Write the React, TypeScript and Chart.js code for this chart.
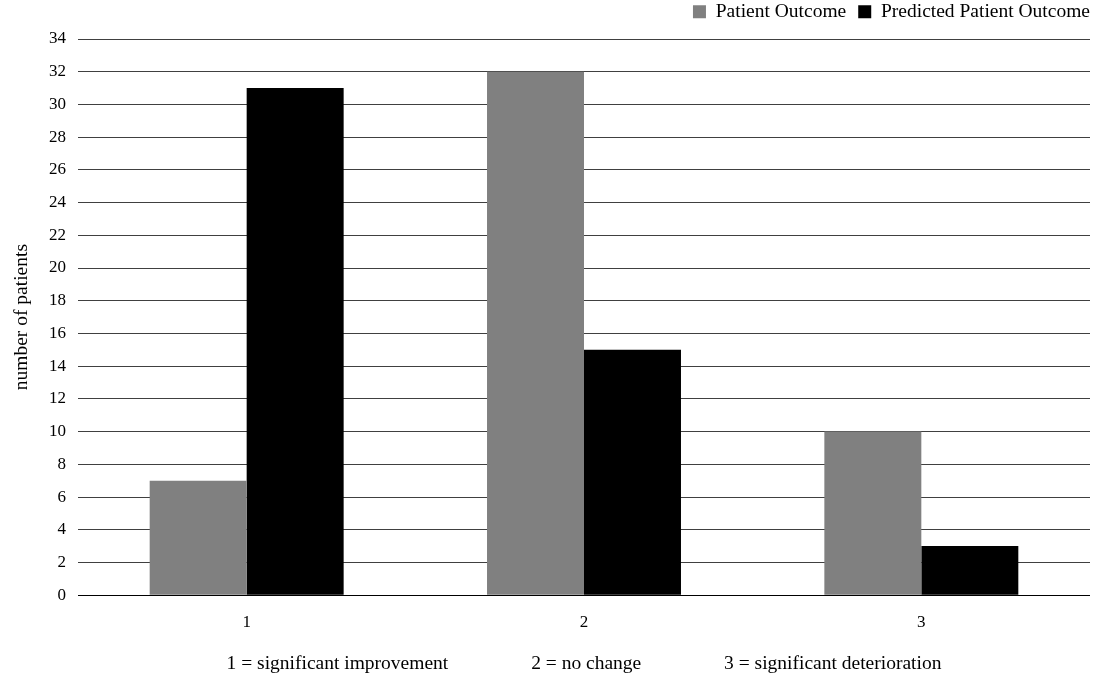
import React, { useEffect, useRef } from "react";
import { Chart, registerables } from "chart.js";

Chart.register(...registerables);

const categories = ["1", "2", "3"];
const patientOutcome = [7, 32, 10];
const predictedOutcome = [31, 15, 3];
const seriesNames = ["Patient Outcome", "Predicted Patient Outcome"];
const yTitle = "number of patients";
const gap = " ".repeat(17);
const xTitle = `1 = significant improvement${gap}2 = no change${gap}3 = significant deterioration`;

const legendShift = {
  id: "legendShift",
  afterLayout(chart: any) {
    const l = chart.legend;
    if (l) {
      l.left += 12;
      l.right += 12;
    }
  },
};

export default function App() {
  const ref = useRef<HTMLCanvasElement | null>(null);
  useEffect(() => {
    if (!ref.current) return;
    const font = "'Liberation Serif', 'Times New Roman', serif";
    const chart = new Chart(ref.current, {
      type: "bar",
      data: {
        labels: categories,
        datasets: [
          { label: seriesNames[0], data: patientOutcome, backgroundColor: "#808080", categoryPercentage: 0.575, barPercentage: 1 },
          { label: seriesNames[1], data: predictedOutcome, backgroundColor: "#000000", categoryPercentage: 0.575, barPercentage: 1 },
        ],
      },
      plugins: [legendShift],
      options: {
        animation: false,
        responsive: false,
        maintainAspectRatio: false,
        layout: { padding: { top: -10, right: 5, left: 10, bottom: 1 } },
        plugins: {
          legend: {
            position: "top",
            align: "end",
            labels: {
              boxWidth: 13,
              boxHeight: 13,
              padding: 12,
              color: "#000",
              font: { family: font, size: 19.5 },
            },
          },
          title: {
            display: true,
            text: " ",
            weight: 500,
            font: { size: 1 },
            padding: { top: 6.3, bottom: 0 },
          },
          tooltip: { enabled: false },
        },
        scales: {
          x: {
            grid: { display: false, drawTicks: false },
            border: { display: false },
            ticks: { color: "#000", font: { family: font, size: 17 }, padding: 17 },
            title: { display: true, text: xTitle, color: "#000", font: { family: font, size: 19.5 }, padding: { top: 3, bottom: 0 } },
          },
          y: {
            min: 0,
            max: 34,
            ticks: { stepSize: 2, color: "#000", font: { family: font, size: 17 }, padding: 12 },
            grid: {
              drawTicks: false,
              color: (ctx: any) => (ctx.tick && ctx.tick.value === 0 ? "#000" : "#404040"),
              lineWidth: 1,
            },
            border: { display: false },
            title: { display: true, text: yTitle, color: "#000", font: { family: font, size: 19.5 }, padding: { top: 0, bottom: 3.6 } },
          },
        },
      },
    });
    return () => chart.destroy();
  }, []);
  return (
    <div style={{ position: "absolute", left: 0, top: 0, width: 1095, height: 677, background: "#fff" }}>
      <canvas ref={ref} width={1095} height={677} style={{ width: 1095, height: 677 }} />
    </div>
  );
}
